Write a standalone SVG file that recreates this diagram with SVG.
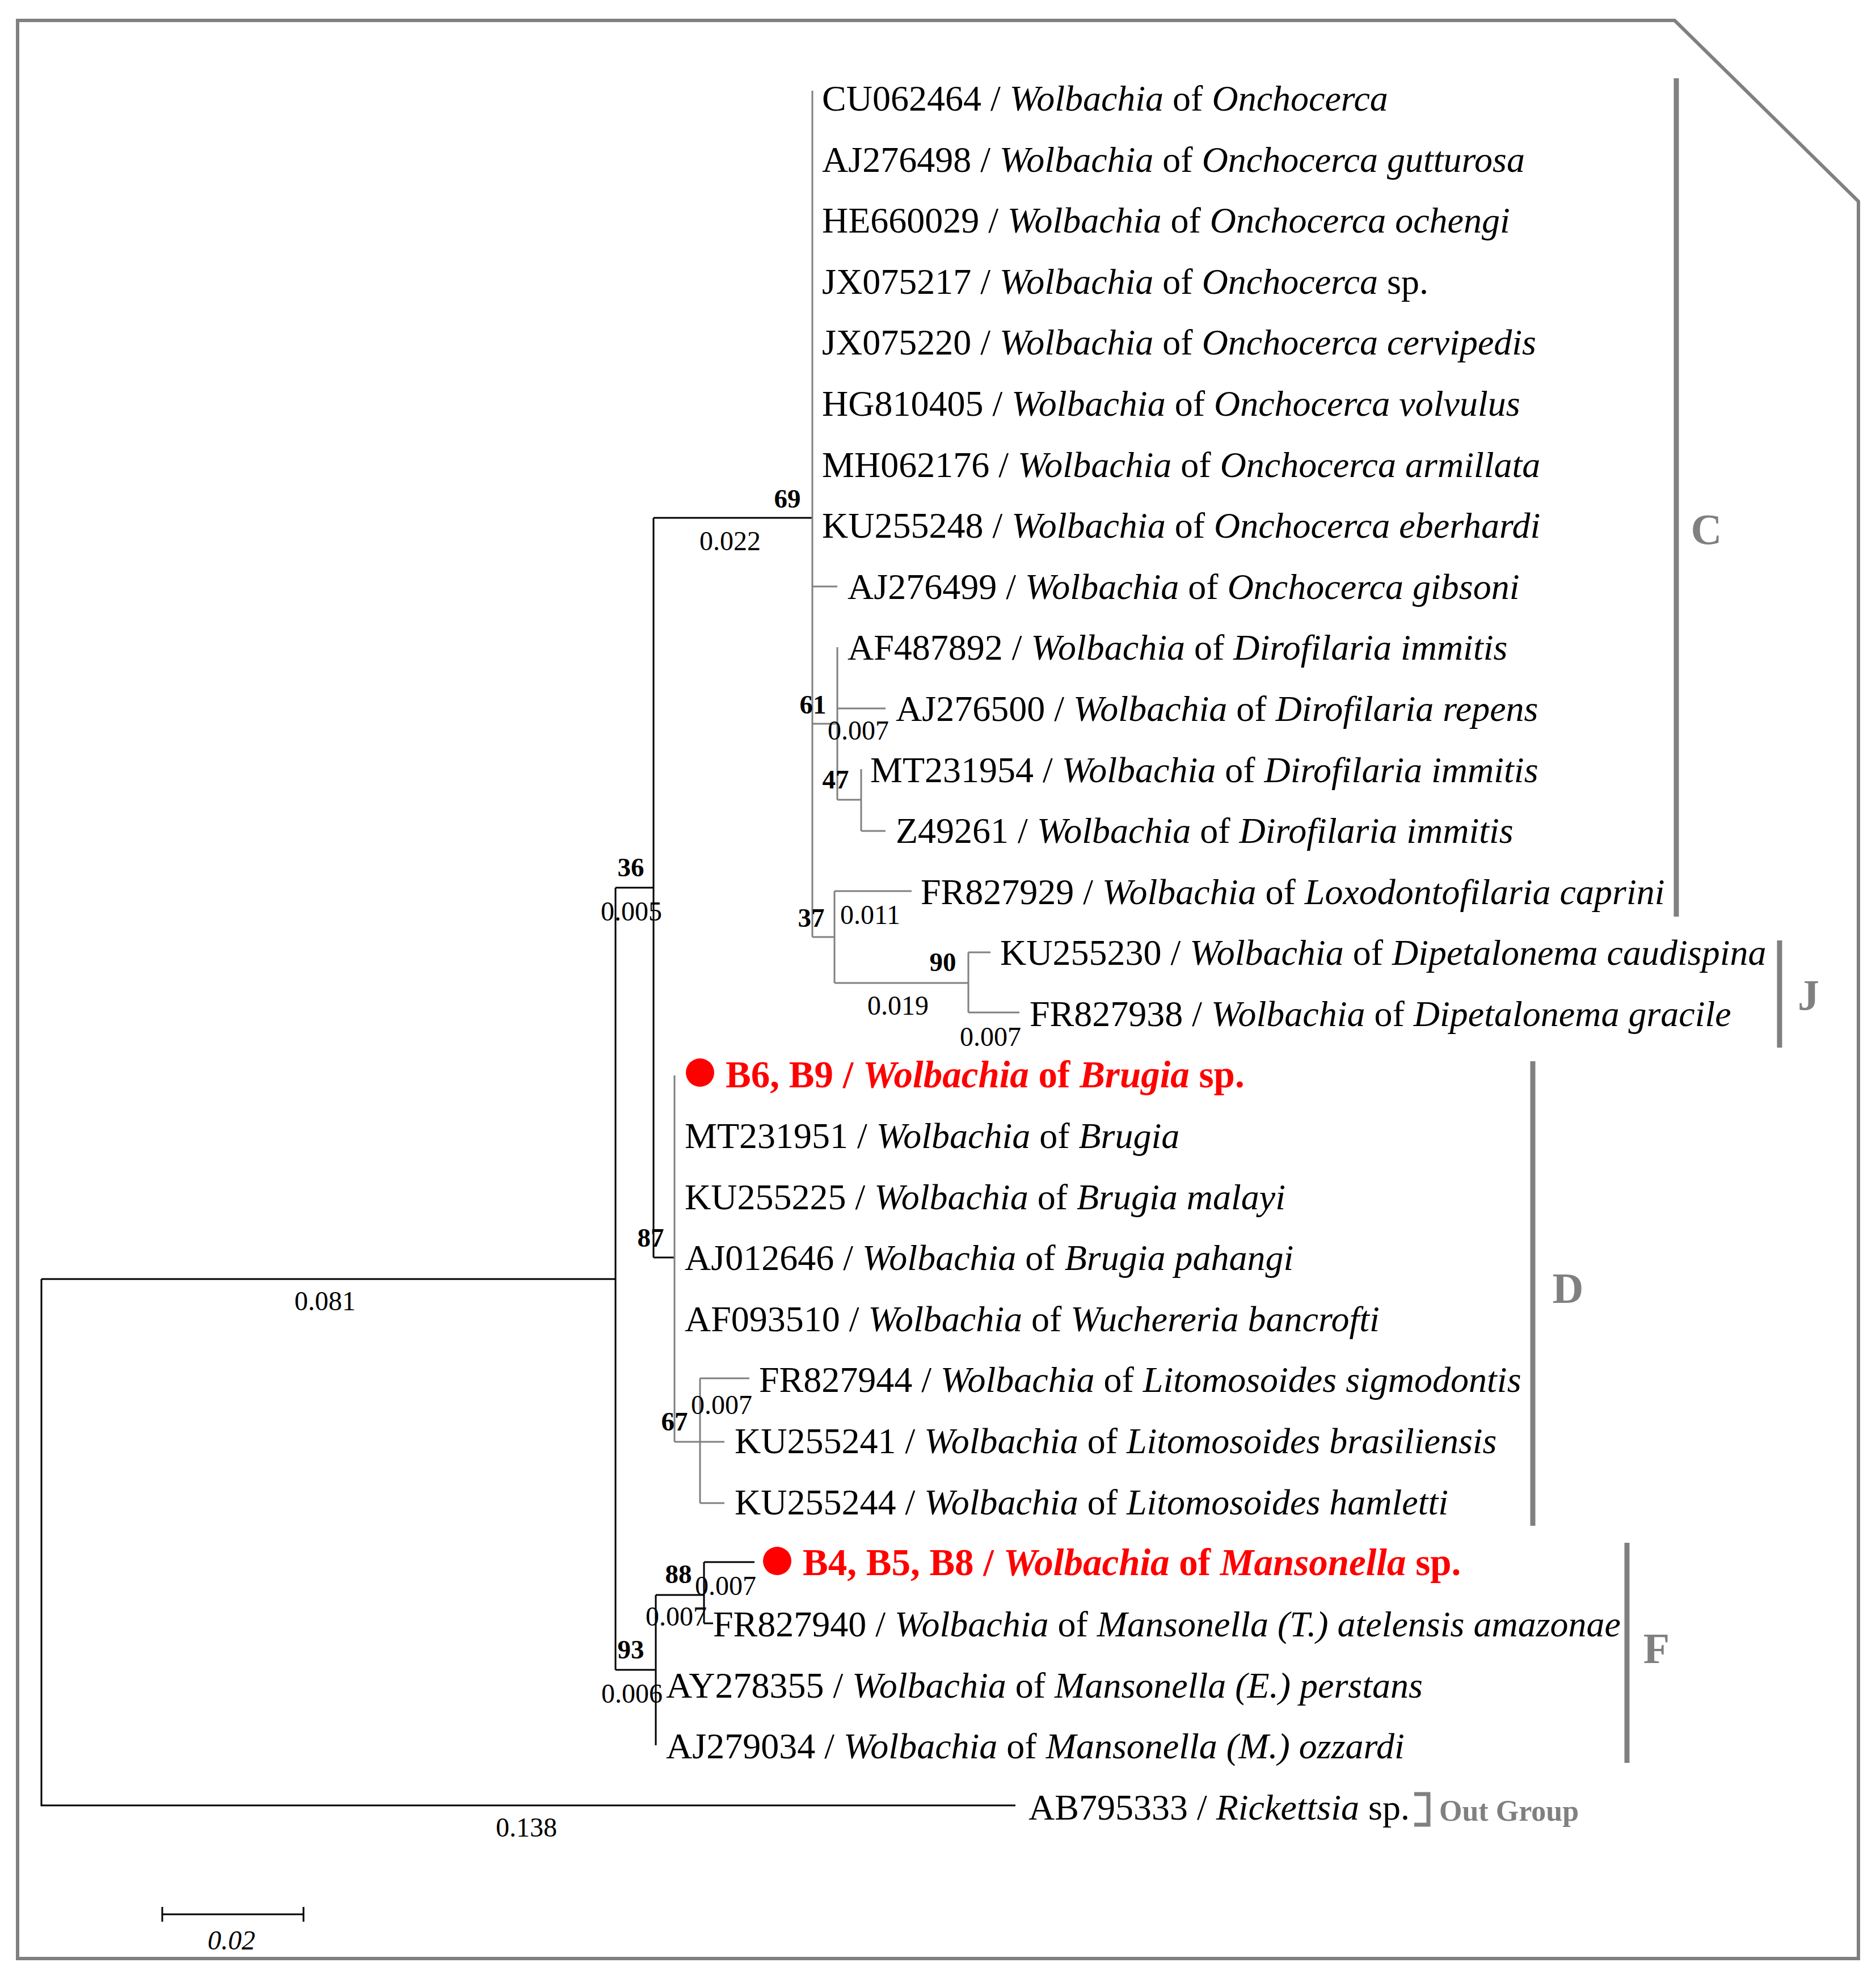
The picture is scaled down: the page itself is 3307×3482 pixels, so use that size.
<svg xmlns="http://www.w3.org/2000/svg" width="3307" height="3482" viewBox="0 0 3307 3482">
<style>
.t{font-family:"Liberation Serif",serif;font-size:64px;fill:#000}
.i{font-style:italic}
.r{fill:#ff0000;font-weight:bold;font-size:67px}
.b{font-family:"Liberation Serif",serif;font-size:47px;font-weight:bold;fill:#000}
.n{font-family:"Liberation Serif",serif;font-size:48px;fill:#000}
.k{stroke:#000;stroke-width:3;fill:none}
.g{stroke:#808080;stroke-width:3;fill:none}
.bar{stroke:#808080;stroke-width:9;fill:none}
.cl{font-family:"Liberation Serif",serif;font-size:76px;font-weight:bold;fill:#808080}
</style>
<rect width="3307" height="3482" fill="#fff"/>
<polygon points="31,36 2952,36 3276,355 3276,3453 31,3453" fill="none" stroke="#808080" stroke-width="6"/>
<g id="connectors">
<path class="k" d="M73,2255H1085M73,2255V3183H1790M1085,1565V2944M1085,1565H1152M1152,913V2217M1152,913H1432M1152,2217H1189"/>
<path class="g" d="M1432,160V1652M1432,1034H1476M1432,1276H1476M1476,1141V1410M1476,1249H1561M1476,1410H1518M1518,1356V1465M1518,1465H1561"/>
<path class="g" d="M1432,1652H1471M1471,1571V1733M1471,1571H1607M1471,1733H1707M1707,1679V1785M1707,1679H1746M1707,1785H1797"/>
<path class="g" d="M1189,1896V2542M1189,2542H1277M1234,2430V2650M1234,2430H1321M1234,2650H1277"/>
<path class="k" d="M1085,2944H1156M1156,2812V3077M1156,2812H1241M1241,2754V2862M1241,2754H1330M1241,2862H1257"/>
<path class="k" d="M286,3375H535M286,3362V3388M535,3362V3388"/>
</g>
<g id="leaves">
<text class="t" x="1449" y="195">CU062464 / <tspan class="i">Wolbachia</tspan> of <tspan class="i">Onchocerca</tspan></text>
<text class="t" x="1449" y="303">AJ276498 / <tspan class="i">Wolbachia</tspan> of <tspan class="i">Onchocerca gutturosa</tspan></text>
<text class="t" x="1449" y="410">HE660029 / <tspan class="i">Wolbachia</tspan> of <tspan class="i">Onchocerca ochengi</tspan></text>
<text class="t" x="1449" y="518">JX075217 / <tspan class="i">Wolbachia</tspan> of <tspan class="i">Onchocerca</tspan> sp.</text>
<text class="t" x="1449" y="625">JX075220 / <tspan class="i">Wolbachia</tspan> of <tspan class="i">Onchocerca cervipedis</tspan></text>
<text class="t" x="1449" y="733">HG810405 / <tspan class="i">Wolbachia</tspan> of <tspan class="i">Onchocerca volvulus</tspan></text>
<text class="t" x="1449" y="841">MH062176 / <tspan class="i">Wolbachia</tspan> of <tspan class="i">Onchocerca armillata</tspan></text>
<text class="t" x="1449" y="948">KU255248 / <tspan class="i">Wolbachia</tspan> of <tspan class="i">Onchocerca eberhardi</tspan></text>
<text class="t" x="1494" y="1056">AJ276499 / <tspan class="i">Wolbachia</tspan> of <tspan class="i">Onchocerca gibsoni</tspan></text>
<text class="t" x="1494" y="1163">AF487892 / <tspan class="i">Wolbachia</tspan> of <tspan class="i">Dirofilaria immitis</tspan></text>
<text class="t" x="1579" y="1271">AJ276500 / <tspan class="i">Wolbachia</tspan> of <tspan class="i">Dirofilaria repens</tspan></text>
<text class="t" x="1534" y="1379">MT231954 / <tspan class="i">Wolbachia</tspan> of <tspan class="i">Dirofilaria immitis</tspan></text>
<text class="t" x="1579" y="1486">Z49261 / <tspan class="i">Wolbachia</tspan> of <tspan class="i">Dirofilaria immitis</tspan></text>
<text class="t" x="1623" y="1594">FR827929 / <tspan class="i">Wolbachia</tspan> of <tspan class="i">Loxodontofilaria caprini</tspan></text>
<text class="t" x="1763" y="1701">KU255230 / <tspan class="i">Wolbachia</tspan> of <tspan class="i">Dipetalonema caudispina</tspan></text>
<text class="t" x="1815" y="1809">FR827938 / <tspan class="i">Wolbachia</tspan> of <tspan class="i">Dipetalonema gracile</tspan></text>
<circle cx="1234" cy="1891" r="25" fill="#ff0000"/>
<text class="t r" x="1279" y="1917">B6, B9 / <tspan class="i">Wolbachia</tspan> of <tspan class="i">Brugia</tspan> sp.</text>
<text class="t" x="1207" y="2024">MT231951 / <tspan class="i">Wolbachia</tspan> of <tspan class="i">Brugia</tspan></text>
<text class="t" x="1207" y="2132">KU255225 / <tspan class="i">Wolbachia</tspan> of <tspan class="i">Brugia malayi</tspan></text>
<text class="t" x="1207" y="2239">AJ012646 / <tspan class="i">Wolbachia</tspan> of <tspan class="i">Brugia pahangi</tspan></text>
<text class="t" x="1207" y="2347">AF093510 / <tspan class="i">Wolbachia</tspan> of <tspan class="i">Wuchereria bancrofti</tspan></text>
<text class="t" x="1338" y="2454">FR827944 / <tspan class="i">Wolbachia</tspan> of <tspan class="i">Litomosoides sigmodontis</tspan></text>
<text class="t" x="1295" y="2562">KU255241 / <tspan class="i">Wolbachia</tspan> of <tspan class="i">Litomosoides brasiliensis</tspan></text>
<text class="t" x="1295" y="2670">KU255244 / <tspan class="i">Wolbachia</tspan> of <tspan class="i">Litomosoides hamletti</tspan></text>
<circle cx="1370" cy="2752" r="25" fill="#ff0000"/>
<text class="t r" x="1415" y="2777">B4, B5, B8 / <tspan class="i">Wolbachia</tspan> of <tspan class="i">Mansonella</tspan> sp.</text>
<text class="t" x="1257" y="2885">FR827940 / <tspan class="i">Wolbachia</tspan> of <tspan class="i">Mansonella (T.) atelensis amazonae</tspan></text>
<text class="t" x="1174" y="2993">AY278355 / <tspan class="i">Wolbachia</tspan> of <tspan class="i">Mansonella (E.) perstans</tspan></text>
<text class="t" x="1174" y="3100">AJ279034 / <tspan class="i">Wolbachia</tspan> of <tspan class="i">Mansonella (M.) ozzardi</tspan></text>
<text class="t" x="1813" y="3208">AB795333 / <tspan class="i">Rickettsia</tspan> sp.</text>
</g>
<g id="labels">
<text class="b" x="1388" y="895" text-anchor="middle">69</text>
<text class="n" x="1287" y="970" text-anchor="middle">0.022</text>
<text class="b" x="1112" y="1545" text-anchor="middle">36</text>
<text class="n" x="1113" y="1623" text-anchor="middle">0.005</text>
<text class="b" x="1433" y="1258" text-anchor="middle">61</text>
<text class="n" x="1513" y="1304" text-anchor="middle">0.007</text>
<text class="b" x="1473" y="1390" text-anchor="middle">47</text>
<text class="b" x="1430" y="1634" text-anchor="middle">37</text>
<text class="n" x="1534" y="1629" text-anchor="middle">0.011</text>
<text class="b" x="1662" y="1712" text-anchor="middle">90</text>
<text class="n" x="1583" y="1789" text-anchor="middle">0.019</text>
<text class="n" x="1746" y="1844" text-anchor="middle">0.007</text>
<text class="b" x="1147" y="2198" text-anchor="middle">87</text>
<text class="b" x="1189" y="2522" text-anchor="middle">67</text>
<text class="n" x="1272" y="2493" text-anchor="middle">0.007</text>
<text class="b" x="1196" y="2791" text-anchor="middle">88</text>
<text class="n" x="1279" y="2812" text-anchor="middle">0.007</text>
<text class="n" x="1192" y="2866" text-anchor="middle">0.007</text>
<text class="b" x="1112" y="2924" text-anchor="middle">93</text>
<text class="n" x="1114" y="3002" text-anchor="middle">0.006</text>
<text class="n" x="573" y="2310" text-anchor="middle">0.081</text>
<text class="n" x="928" y="3238" text-anchor="middle">0.138</text>
<text class="n" x="408" y="3437" text-anchor="middle" font-style="italic">0.02</text>
</g>
<g id="clades">
<path class="bar" d="M2955,138V1616"/>
<text class="cl" x="3008" y="959" text-anchor="middle">C</text>
<path class="bar" d="M3137,1658V1847"/>
<text class="cl" x="3188" y="1780" text-anchor="middle">J</text>
<path class="bar" d="M2702,1871V2690"/>
<text class="cl" x="2764" y="2297" text-anchor="middle">D</text>
<path class="bar" d="M2868,2720V3108"/>
<text class="cl" x="2920" y="2932" text-anchor="middle">F</text>
<path d="M2493,3163H2518V3217H2493" fill="none" stroke="#808080" stroke-width="7"/>
<text x="2537" y="3210" font-family="Liberation Serif,serif" font-size="52" font-weight="bold" fill="#808080">Out Group</text>
</g>
</svg>
